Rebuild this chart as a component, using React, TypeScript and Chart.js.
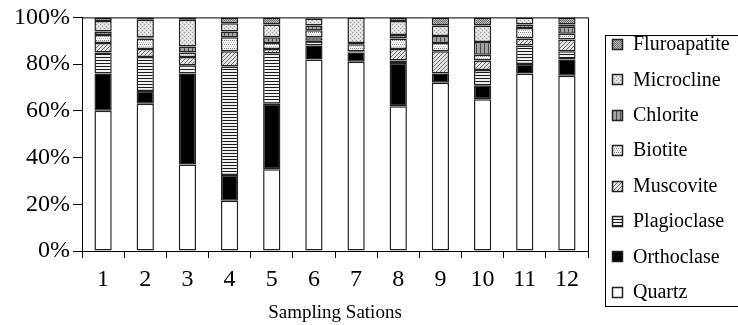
import React, { useEffect, useRef } from "react";
import { Chart, registerables } from "chart.js";

Chart.register(...registerables);

const stations = ["1", "2", "3", "4", "5", "6", "7", "8", "9", "10", "11", "12"];
const yTicks = [0, 20, 40, 60, 80, 100];

const quartz = [60, 63, 37, 21.5, 35, 82, 81, 62, 72, 65, 76, 75];
const orthoclase = [16, 5.5, 39, 11, 28, 6, 4, 18.5, 4, 6, 4, 7];
const plagioclase = [9, 14.5, 3.5, 46.5, 21.5, 2, 0, 1, 0, 6.5, 8, 3.5];
const muscovite = [4, 3.5, 3.5, 6.5, 2, 1.5, 0.5, 5, 9.5, 4, 3, 5];
const biotite = [3.5, 4.5, 2, 6, 2.5, 3, 3, 4.5, 3.5, 2.5, 4.5, 2.5];
const chlorite = [1.5, 0.5, 2.5, 2.5, 2.5, 2, 0.5, 1.5, 3, 5.5, 1.5, 3];
const microcline = [4.5, 7.5, 11.5, 3.5, 5.5, 3, 11, 6, 4.5, 7, 3, 1];
const fluroapatite = [1.5, 1, 1, 2.5, 3, 0.5, 0, 1.5, 3.5, 3.5, 0, 3];

const seriesNames = ["Quartz", "Orthoclase", "Plagioclase", "Muscovite", "Biotite", "Chlorite", "Microcline", "Fluroapatite"];
const seriesValues = [quartz, orthoclase, plagioclase, muscovite, biotite, chlorite, microcline, fluroapatite];

const FONT = '"Liberation Serif", "Times New Roman", serif';

function makePattern(w: number, h: number, draw: (g: CanvasRenderingContext2D) => void): CanvasPattern | string {
  const c = document.createElement("canvas");
  c.width = w;
  c.height = h;
  const g = c.getContext("2d");
  if (!g) return "#888";
  draw(g);
  return g.createPattern(c, "repeat") || "#888";
}

function buildFills(): (CanvasPattern | string)[] {
  const quartzFill = "#ffffff";
  const orthoFill = "#000000";
  const plagFill = makePattern(3, 3, (g) => {
    g.fillStyle = "#f2f2f2";
    g.fillRect(0, 0, 3, 3);
    g.fillStyle = "#1a1a1a";
    g.fillRect(0, 0, 3, 1);
  });
  const muscFill = makePattern(4, 4, (g) => {
    g.fillStyle = "#e4e4e4";
    g.fillRect(0, 0, 4, 4);
    g.fillStyle = "#6a6a6a";
    g.fillRect(3, 0, 1, 1);
    g.fillRect(2, 1, 1, 1);
    g.fillRect(1, 2, 1, 1);
    g.fillRect(0, 3, 1, 1);
  });
  const bioFill = makePattern(4, 4, (g) => {
    g.fillStyle = "#fafafa";
    g.fillRect(0, 0, 4, 4);
    g.fillStyle = "#808080";
    g.fillRect(0, 0, 1, 1);
    g.fillRect(2, 0, 1, 1);
    g.fillStyle = "#bcbcbc";
    g.fillRect(1, 2, 1, 1);
    g.fillRect(3, 2, 1, 1);
  });
  const chlFill = makePattern(4, 4, (g) => {
    g.fillStyle = "#a3a3a3";
    g.fillRect(0, 0, 4, 4);
    g.fillStyle = "#484848";
    g.fillRect(0, 0, 1, 4);
  });
  const microFill = makePattern(4, 4, (g) => {
    g.fillStyle = "#dedede";
    g.fillRect(0, 0, 4, 4);
    g.fillStyle = "#9a9a9a";
    g.fillRect(0, 0, 1, 1);
    g.fillRect(2, 2, 1, 1);
    g.fillStyle = "#f6f6f6";
    g.fillRect(2, 0, 1, 1);
    g.fillRect(0, 2, 1, 1);
  });
  const fluoFill = makePattern(2, 2, (g) => {
    g.fillStyle = "#bdbdbd";
    g.fillRect(0, 0, 2, 2);
    g.fillStyle = "#6a6a6a";
    g.fillRect(0, 0, 1, 1);
    g.fillRect(1, 1, 1, 1);
  });
  return [quartzFill, orthoFill, plagFill, muscFill, bioFill, chlFill, microFill, fluoFill];
}

export default function App() {
  const ref = useRef<HTMLCanvasElement | null>(null);

  useEffect(() => {
    const canvas = ref.current;
    if (!canvas) return;
    const fills = buildFills();

    const framePlugin = {
      id: "frameAndLegend",
      afterDraw(chart: any) {
        const ctx = chart.ctx as CanvasRenderingContext2D;
        const a = chart.chartArea;
        ctx.save();
        ctx.strokeStyle = "#000";
        ctx.lineWidth = 1;
        ctx.beginPath();
        ctx.moveTo(a.left, a.top + 0.5);
        ctx.lineTo(a.right + 0.5, a.top + 0.5);
        ctx.lineTo(a.right + 0.5, a.bottom + 7);
        ctx.stroke();

        // legend box
        const lx = 605.5;
        const ly = 35.5;
        ctx.strokeRect(lx, ly, 150, 271);
        ctx.font = "20px " + FONT;
        ctx.textBaseline = "middle";
        ctx.textAlign = "left";
        for (let i = 0; i < seriesNames.length; i++) {
          const idx = seriesNames.length - 1 - i;
          const cy = 44 + i * 35.4;
          const top = Math.round(cy - 5);
          ctx.fillStyle = fills[idx] as any;
          ctx.fillRect(612, top, 10, 10);
          ctx.strokeStyle = "#222";
          ctx.lineWidth = 1.5;
          ctx.strokeRect(612.5, top + 0.5, 10, 10);
          ctx.lineWidth = 1;
          ctx.fillStyle = "#000";
          ctx.fillText(seriesNames[idx], 633, cy + 1);
        }
        ctx.restore();
      },
    };

    const chart = new Chart(canvas, {
      type: "bar",
      data: {
        labels: stations,
        datasets: seriesNames.map((name, i) => ({
          label: name,
          data: seriesValues[i],
          backgroundColor: fills[i] as any,
          borderColor: "#222",
          borderWidth: 1.5,
          borderSkipped: false,
          barPercentage: 0.41,
          categoryPercentage: 1,
        })),
      },
      options: {
        responsive: false,
        animation: false,
        devicePixelRatio: 1,
        layout: { padding: { left: 0, right: 150, top: 17, bottom: 0 } },
        plugins: {
          legend: { display: false },
          tooltip: { enabled: false },
        },
        scales: {
          x: {
            stacked: true,
            grid: {
              display: true,
              drawOnChartArea: false,
              drawTicks: true,
              tickLength: 7,
              color: "#000",
              offset: true,
            },
            border: { display: true, color: "#000" },
            ticks: {
              color: "#000",
              font: { family: FONT, size: 24 },
              padding: 7,
              maxRotation: 0,
            },
            title: {
              display: true,
              text: "Sampling Sations",
              color: "#000",
              font: { family: FONT, size: 19 },
              padding: { top: 2, bottom: 1 },
            },
            afterFit(scale: any) {
              scale.height = 74;
            },
          },
          y: {
            stacked: true,
            min: 0,
            max: 100,
            grid: {
              display: true,
              drawOnChartArea: false,
              drawTicks: true,
              tickLength: 9,
              color: "#000",
            },
            border: { display: true, color: "#000" },
            ticks: {
              color: "#000",
              stepSize: 20,
              padding: 3,
              font: { family: FONT, size: 24 },
              callback: (v: any) => (yTicks.includes(Number(v)) ? v + "%" : ""),
            },
            afterFit(scale: any) {
              scale.width = 82;
            },
          },
        },
      },
      plugins: [framePlugin],
    });

    return () => chart.destroy();
  }, []);

  return (
    <div style={{ position: "fixed", left: 0, top: 0, width: 738, height: 325, background: "#fff" }}>
      <canvas ref={ref} width={738} height={325} style={{ display: "block", width: 738, height: 325 }} />
    </div>
  );
}
